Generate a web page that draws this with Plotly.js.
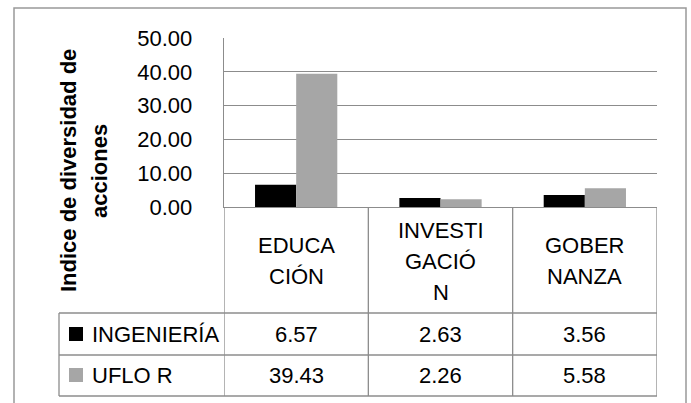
<!DOCTYPE html>
<html>
<head>
<meta charset="utf-8">
<script src="https://cdn.plot.ly/plotly-3.0.1.min.js"></script>
<style>html,body{margin:0;padding:0;background:#fff;}#chart{width:691px;height:403px;}</style>
</head>
<body>
<div id="chart"></div>
<script>
// ---- data ----
const categories = ["EDUCACIÓN", "INVESTIGACIÓN", "GOBERNANZA"];
const headerLines = [["EDUCA", "CIÓN"], ["INVESTI", "GACIÓ", "N"], ["GOBER", "NANZA"]];
const seriesNames = ["INGENIERÍA", "UFLO R"];
const ingenieria = [6.57, 2.63, 3.56];
const ufloR = [39.43, 2.26, 5.58];
const seriesColors = ["#000000", "#a6a6a6"];
const yTicks = [0, 10, 20, 30, 40, 50];
const yTitleLines = ["Indice de diversidad de", "acciones"];

// ---- layout helpers (pixel -> paper) ----
const W = 691, H = 403;
const L = 224, R = 657, T = 38, B = 207;
const px = x => (x - L) / (R - L);
const py = y => (B - y) / (B - T);
const FONT = "Liberation Sans, Arial, sans-serif";
const FS = 22;
const gridCol = "#8c8c8c";

const seriesValues = [ingenieria, ufloR];
const xIdx = categories.map((c, i) => i);

const traces = seriesValues.map((vals, s) => ({
  type: "bar",
  name: seriesNames[s],
  x: xIdx,
  y: vals,
  marker: {color: seriesColors[s], line: {width: 0}},
  hoverinfo: "skip"
}));

const shapes = [];
const annotations = [];
const lineStyle = {color: gridCol, width: 1.3};

// outer chart border
shapes.push({type: "rect", xref: "paper", yref: "paper", x0: px(14), x1: px(686), y0: py(8), y1: py(420),
  line: {color: "#999999", width: 1.5}, fillcolor: "rgba(0,0,0,0)", layer: "below"});

// table row lines
const rowTops = [313, 355, 396];
rowTops.forEach(y => {
  shapes.push({type: "line", xref: "paper", yref: "paper", x0: px(59), x1: 1, y0: py(y), y1: py(y), line: lineStyle});
});
// left border of series rows
shapes.push({type: "line", xref: "paper", yref: "paper", x0: px(59), x1: px(59), y0: py(313), y1: py(396), line: lineStyle});
// column dividers
[-0.5, 0.5, 1.5, 2.5].forEach(xv => {
  shapes.push({type: "line", xref: "x", yref: "paper", x0: xv, x1: xv, y0: 0, y1: py(396), line: lineStyle});
});

// header cells (category names, wrapped)
headerLines.forEach((lines, i) => {
  const n = lines.length;
  lines.forEach((t, j) => {
    const cy = 261 + (j - (n - 1) / 2) * 31;
    annotations.push({xref: "x", yref: "paper", x: i, y: py(cy), text: t, showarrow: false,
      xanchor: "center", yanchor: "middle", font: {family: FONT, size: FS, color: "#000"}});
  });
});

// series rows: legend key, name, values
const rowCenters = [334, 375];
seriesNames.forEach((nm, s) => {
  const cy = rowCenters[s];
  shapes.push({type: "rect", xref: "paper", yref: "paper", x0: px(69), x1: px(83), y0: py(cy - 7), y1: py(cy + 7),
    fillcolor: seriesColors[s], line: {width: 0}});
  annotations.push({xref: "paper", yref: "paper", x: px(90), y: py(cy), text: nm, showarrow: false,
    xanchor: "left", yanchor: "middle", font: {family: FONT, size: FS, color: "#000"}});
  seriesValues[s].forEach((v, i) => {
    annotations.push({xref: "x", yref: "paper", x: i, y: py(cy), text: v.toFixed(2), showarrow: false,
      xanchor: "center", yanchor: "middle", font: {family: FONT, size: FS, color: "#000"}});
  });
});

// y-axis title (two lines, rotated)
const titleX = [68, 99];
yTitleLines.forEach((t, k) => {
  annotations.push({xref: "paper", yref: "paper", x: px(titleX[k]), y: py(171), text: "<b>" + t + "</b>",
    textangle: -90, showarrow: false, xanchor: "center", yanchor: "middle",
    font: {family: FONT, size: 22, color: "#000"}});
});

const layout = {
  width: W, height: H,
  margin: {l: L, r: W - R, t: T, b: H - B, pad: 0},
  paper_bgcolor: "#ffffff", plot_bgcolor: "#ffffff",
  showlegend: false,
  barmode: "group",
  bargap: 0.43,
  bargroupgap: 0,
  font: {family: FONT, size: FS, color: "#000"},
  xaxis: {range: [-0.5, 2.5], showticklabels: false, ticks: "", showgrid: false, zeroline: false,
    showline: true, linecolor: gridCol, linewidth: 1.3, fixedrange: true},
  yaxis: {range: [0, 50], tickvals: yTicks, ticktext: yTicks.map(v => v.toFixed(2)),
    showgrid: true, gridcolor: gridCol, gridwidth: 1.3, zeroline: false,
    showline: true, linecolor: gridCol, linewidth: 1.3, ticks: "",
    ticklabelstandoff: 26, tickfont: {family: FONT, size: FS, color: "#000"}, fixedrange: true},
  shapes: shapes,
  annotations: annotations
};

Plotly.newPlot("chart", traces, layout, {displayModeBar: false, staticPlot: true});
</script>
</body>
</html>
